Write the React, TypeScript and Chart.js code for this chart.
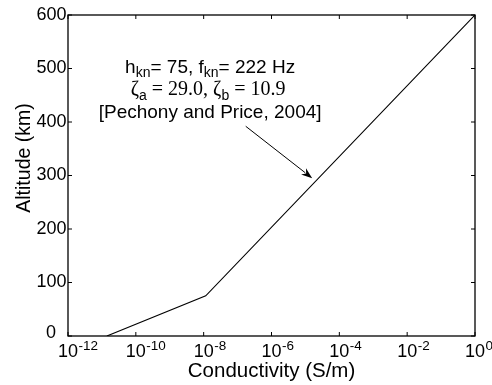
import React, { useEffect, useRef } from "react";
import { Chart, registerables } from "chart.js";

Chart.register(...registerables);

// Data
const conductivity = [1.4e-11, 1.15e-8, 1];
const altitude = [0, 75, 600];
const xTickExponents = [-12, -10, -8, -6, -4, -2, 0];
const yTicks = [0, 100, 200, 300, 400, 500, 600];
const xTitle = "Conductivity (S/m)";
const yTitle = "Altitude (km)";
// annotation anchor (data coords) and arrow (data coords)
const noteAnchor = { x: Math.pow(10, -7.81), y: 491.6 };
const arrowTail = { x: Math.pow(10, -6.76), y: 392 };
const arrowTip = { x: Math.pow(10, -4.8), y: 295 };

const SANS = '"Liberation Sans", Arial, Helvetica, sans-serif';
const SERIF = '"Liberation Serif", "Times New Roman", serif';

type Run = { t: string; font: string; dy?: number };

function drawRuns(ctx: CanvasRenderingContext2D, runs: Run[], cx: number, baseY: number) {
  let total = 0;
  const widths = runs.map((r) => {
    ctx.font = r.font;
    const w = ctx.measureText(r.t).width;
    total += w;
    return w;
  });
  let x = cx - total / 2;
  ctx.textAlign = "left";
  ctx.textBaseline = "alphabetic";
  runs.forEach((r, i) => {
    ctx.font = r.font;
    ctx.fillText(r.t, x, baseY + (r.dy || 0));
    x += widths[i];
  });
}

const customPlugin = {
  id: "matlabStyle",
  afterDraw(chart: any) {
    const ctx: CanvasRenderingContext2D = chart.ctx;
    const { left, right, top, bottom } = chart.chartArea;
    const xs = chart.scales.x;
    const ys = chart.scales.y;
    ctx.save();
    ctx.strokeStyle = "#000";
    ctx.fillStyle = "#000";
    ctx.lineWidth = 1.3;
    ctx.strokeRect(left, top, right - left, bottom - top);
    const tl = 4;
    ctx.lineWidth = 1;
    ctx.beginPath();
    xTickExponents.forEach((e) => {
      const px = xs.getPixelForValue(Math.pow(10, e));
      ctx.moveTo(px, bottom);
      ctx.lineTo(px, bottom - tl);
      ctx.moveTo(px, top);
      ctx.lineTo(px, top + tl);
    });
    yTicks.forEach((v) => {
      const py = ys.getPixelForValue(v);
      ctx.moveTo(left, py);
      ctx.lineTo(left + tl, py);
      ctx.moveTo(right, py);
      ctx.lineTo(right - tl, py);
    });
    ctx.stroke();

    // y tick labels
    ctx.font = `18px ${SANS}`;
    ctx.textAlign = "right";
    ctx.textBaseline = "alphabetic";
    yTicks.forEach((v) => {
      const py = ys.getPixelForValue(v);
      if (v === 0) {
        ctx.fillText(String(v), left - 12, py + 2);
      } else {
        ctx.fillText(String(v), left - 1.5, py + 4.5);
      }
    });

    // x tick labels: base centered at tick, exponent to the right
    xTickExponents.forEach((e) => {
      const px = xs.getPixelForValue(Math.pow(10, e));
      ctx.font = `18px ${SANS}`;
      ctx.textAlign = "center";
      ctx.textBaseline = "alphabetic";
      ctx.fillText("10", px, bottom + 21);
      const w = ctx.measureText("10").width;
      ctx.font = `13.5px ${SANS}`;
      ctx.textAlign = "left";
      ctx.fillText(e === 0 ? "0" : "-" + Math.abs(e), px + w / 2 + 0.5, bottom + 14);
    });

    // axis titles
    ctx.font = `20.5px ${SANS}`;
    ctx.textAlign = "center";
    ctx.textBaseline = "alphabetic";
    ctx.fillText(xTitle, (left + right) / 2, bottom + 41);
    ctx.font = `19.5px ${SANS}`;
    ctx.save();
    ctx.translate(30, 158);
    ctx.rotate(-Math.PI / 2);
    ctx.fillText(yTitle, 0, 0);
    ctx.restore();

    // annotation text
    const ax = xs.getPixelForValue(noteAnchor.x);
    const ay = ys.getPixelForValue(noteAnchor.y);
    const big = `19px ${SANS}`;
    const sub = `14px ${SANS}`;
    const serif = `20px ${SERIF}`;
    drawRuns(ctx, [
      { t: "h", font: big },
      { t: "kn", font: sub, dy: 4 },
      { t: "= 75, f", font: big },
      { t: "kn", font: sub, dy: 4 },
      { t: "= 222 Hz", font: big },
    ], ax, ay);
    drawRuns(ctx, [
      { t: "\u03B6", font: serif },
      { t: "a", font: sub, dy: 5 },
      { t: " = 29.0, \u03B6", font: serif },
      { t: "b", font: sub, dy: 5 },
      { t: " = 10.9", font: serif },
    ], ax - 2, ay + 22);
    drawRuns(ctx, [{ t: "[Pechony and Price, 2004]", font: `19px ${SANS}` }], ax, ay + 45);

    // arrow
    const tx = xs.getPixelForValue(arrowTail.x);
    const ty = ys.getPixelForValue(arrowTail.y);
    const hx = xs.getPixelForValue(arrowTip.x);
    const hy = ys.getPixelForValue(arrowTip.y);
    const ang = Math.atan2(hy - ty, hx - tx);
    const hl = 11;
    const hw = 4;
    ctx.lineWidth = 1;
    ctx.beginPath();
    ctx.moveTo(tx, ty);
    ctx.lineTo(hx - hl * 0.8 * Math.cos(ang), hy - hl * 0.8 * Math.sin(ang));
    ctx.stroke();
    ctx.beginPath();
    ctx.moveTo(hx, hy);
    ctx.lineTo(hx - hl * Math.cos(ang) + hw * Math.sin(ang), hy - hl * Math.sin(ang) - hw * Math.cos(ang));
    ctx.lineTo(hx - hl * 0.7 * Math.cos(ang), hy - hl * 0.7 * Math.sin(ang));
    ctx.lineTo(hx - hl * Math.cos(ang) - hw * Math.sin(ang), hy - hl * Math.sin(ang) + hw * Math.cos(ang));
    ctx.closePath();
    ctx.fill();
    ctx.restore();
  },
};

export default function App() {
  const ref = useRef<HTMLCanvasElement | null>(null);
  useEffect(() => {
    if (!ref.current) return;
    const chart = new Chart(ref.current, {
      type: "line",
      data: {
        datasets: [
          {
            data: conductivity.map((c, i) => ({ x: c, y: altitude[i] })),
            borderColor: "#000",
            borderWidth: 1.1,
            pointRadius: 0,
            fill: false,
            tension: 0,
          },
        ],
      },
      options: {
        animation: false,
        responsive: false,
        maintainAspectRatio: false,
        layout: { padding: { left: 68, right: 17, top: 15, bottom: 49 } },
        plugins: { legend: { display: false }, tooltip: { enabled: false } },
        scales: {
          x: { type: "logarithmic", min: 1e-12, max: 1, display: false },
          y: { type: "linear", min: 0, max: 600, display: false },
        },
      },
      plugins: [customPlugin],
    });
    return () => chart.destroy();
  }, []);
  return (
    <div style={{ position: "fixed", left: 0, top: 0, width: 492, height: 385, background: "#fff" }}>
      <canvas ref={ref} width={492} height={385} style={{ width: 492, height: 385 }} />
    </div>
  );
}
